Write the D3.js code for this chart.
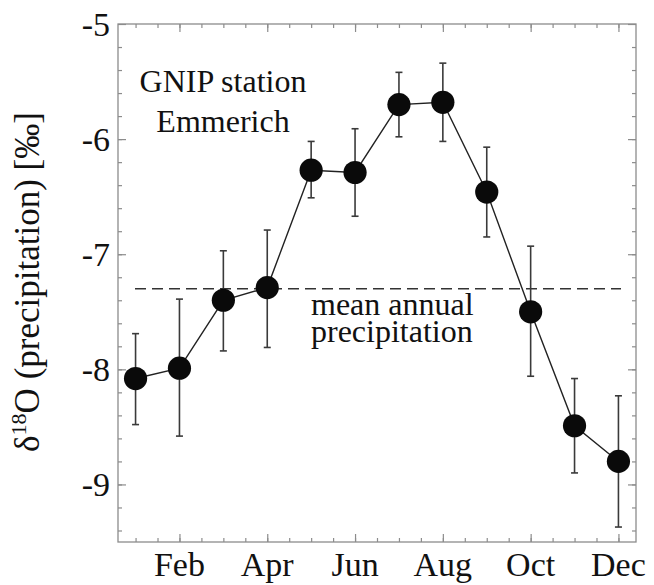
<!DOCTYPE html>
<html>
<head>
<meta charset="utf-8">
<script src="https://cdn.jsdelivr.net/npm/d3@7"></script>
<style>
  html, body { margin: 0; padding: 0; background: #fff; }
  svg { display: block; }
  text { font-family: "Liberation Serif", "Times New Roman", "DejaVu Serif", serif; fill: #111; }
</style>
</head>
<body>
<svg id="chart" width="654" height="585"></svg>
<script>
// ---- data ----
const months = [1, 2, 3, 4, 5, 6, 7, 8, 9, 10, 11, 12];
const monthNames = ["Jan","Feb","Mar","Apr","May","Jun","Jul","Aug","Sep","Oct","Nov","Dec"];
const d18O     = [-8.08, -7.99, -7.40, -7.29, -6.27, -6.29, -5.70, -5.68, -6.46, -7.50, -8.49, -8.80];
const errUpper = [-7.69, -7.39, -6.97, -6.79, -6.02, -5.91, -5.42, -5.34, -6.07, -6.93, -8.08, -8.23];
const errLower = [-8.48, -8.58, -7.84, -7.81, -6.51, -6.67, -5.98, -6.02, -6.85, -8.06, -8.90, -9.37];
const meanAnnual = -7.30;
const xTickLabels = ["Feb", "Apr", "Jun", "Aug", "Oct", "Dec"];
const labeledMonths = [2, 4, 6, 8, 10, 12];
const yTickValues = [-9, -8, -7, -6, -5];

// ---- layout ----
const svg = d3.select("#chart");
const L = 118, R = 636, T = 24, B = 542;
const x = d3.scaleLinear().domain([0.6, 12.4]).range([L, R]);
const y = d3.scaleLinear().domain([-9.5, -5]).range([B, T]);
const frameColor = "#8c8c8c";

// minor/major ticks
const xMinor = d3.range(1, 12.01, 0.5);
const yMinor = d3.range(-9.4, -5.05, 0.2).map(v => +v.toFixed(1));

const bottomAxis = d3.axisBottom(x).tickValues(xMinor).tickSize(-4).tickFormat("");
const topAxis = d3.axisTop(x).tickValues(xMinor).tickSize(-4).tickFormat("");
const leftAxis = d3.axisLeft(y).tickValues(yMinor).tickSize(-4).tickFormat("");
const rightAxis = d3.axisRight(y).tickValues(yMinor).tickSize(-4).tickFormat("");

function styleAxis(g) {
  g.select(".domain").remove();
  g.selectAll("line").attr("stroke", frameColor).attr("stroke-width", 1.2);
}
svg.append("g").attr("transform", `translate(0,${B})`).call(bottomAxis).call(styleAxis);
svg.append("g").attr("transform", `translate(0,${T})`).call(topAxis).call(styleAxis);
svg.append("g").attr("transform", `translate(${L},0)`).call(leftAxis).call(styleAxis);
svg.append("g").attr("transform", `translate(${R},0)`).call(rightAxis).call(styleAxis);

// major ticks (longer) at labeled months and integer values
const bMaj = d3.axisBottom(x).tickValues(labeledMonths).tickSize(-8).tickFormat("");
const tMaj = d3.axisTop(x).tickValues(labeledMonths).tickSize(-8).tickFormat("");
const lMaj = d3.axisLeft(y).tickValues(yTickValues).tickSize(-8).tickFormat("");
const rMaj = d3.axisRight(y).tickValues(yTickValues).tickSize(-8).tickFormat("");
svg.append("g").attr("transform", `translate(0,${B})`).call(bMaj).call(styleAxis);
svg.append("g").attr("transform", `translate(0,${T})`).call(tMaj).call(styleAxis);
svg.append("g").attr("transform", `translate(${L},0)`).call(lMaj).call(styleAxis);
svg.append("g").attr("transform", `translate(${R},0)`).call(rMaj).call(styleAxis);

// frame
svg.append("rect").attr("x", L).attr("y", T).attr("width", R - L).attr("height", B - T)
  .attr("fill", "none").attr("stroke", frameColor).attr("stroke-width", 1.3);

// tick labels
svg.append("g").selectAll("text").data(labeledMonths).join("text")
  .attr("x", d => x(d)).attr("y", 576)
  .attr("text-anchor", "middle").attr("font-size", 34)
  .text((d, i) => xTickLabels[i]);

svg.append("g").selectAll("text").data(yTickValues).join("text")
  .attr("x", 110).attr("y", d => y(d)).attr("dy", "0.35em")
  .attr("text-anchor", "end").attr("font-size", 34)
  .text(d => d3.format("d")(d).replace("−", "-"));

// y axis label
const yl = svg.append("text")
  .attr("transform", `translate(39,282) rotate(-90)`)
  .attr("text-anchor", "middle").attr("font-size", 35);
yl.append("tspan").text("δ");
yl.append("tspan").attr("font-size", 22).attr("dy", -13).text("18");
yl.append("tspan").attr("dy", 13).text("O (precipitation) [‰]");

// mean annual dashed line
svg.append("line")
  .attr("x1", 135).attr("x2", 621)
  .attr("y1", y(meanAnnual)).attr("y2", y(meanAnnual))
  .attr("stroke", "#333").attr("stroke-width", 1.3)
  .attr("stroke-dasharray", "11,6");

const ma = svg.append("text").attr("font-size", 32);
ma.append("tspan").attr("x", 311).attr("y", 315).text("mean annual");
ma.append("tspan").attr("x", 311).attr("y", 342).text("precipitation");

// station label
const st = svg.append("text").attr("text-anchor", "middle").attr("font-size", 32);
st.append("tspan").attr("x", 223).attr("y", 92).text("GNIP station");
st.append("tspan").attr("x", 223).attr("y", 132).text("Emmerich");

// error bars
const eb = svg.append("g").attr("stroke", "#3a3a3a").attr("stroke-width", 1.6);
months.forEach((m, i) => {
  eb.append("line").attr("x1", x(m)).attr("x2", x(m))
    .attr("y1", y(errUpper[i])).attr("y2", y(errLower[i]));
  eb.append("line").attr("x1", x(m) - 3.5).attr("x2", x(m) + 3.5)
    .attr("y1", y(errUpper[i])).attr("y2", y(errUpper[i]));
  eb.append("line").attr("x1", x(m) - 3.5).attr("x2", x(m) + 3.5)
    .attr("y1", y(errLower[i])).attr("y2", y(errLower[i]));
});

// connecting line
const line = d3.line().x((d, i) => x(months[i])).y(d => y(d));
svg.append("path").datum(d18O).attr("d", line)
  .attr("fill", "none").attr("stroke", "#222").attr("stroke-width", 1.4);

// points
svg.append("g").selectAll("circle").data(d18O).join("circle")
  .attr("cx", (d, i) => x(months[i])).attr("cy", d => y(d))
  .attr("r", 11.6).attr("fill", "#0a0a0a");
</script>
</body>
</html>
